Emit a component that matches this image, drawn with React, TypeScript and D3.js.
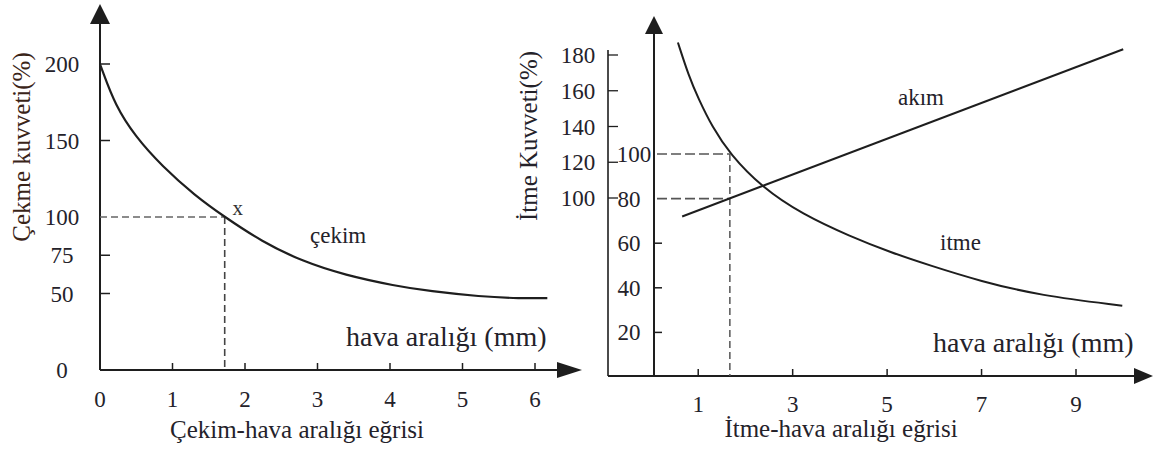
import React from "react";
import * as d3 from "d3";

// ---- Left chart: Çekim (pull) force vs air gap ----
const pullGap = [0, 0.03, 0.21, 0.48, 0.86, 1.31, 1.72, 2.23, 2.79, 3.38, 4.07, 4.55, 5.24, 5.8, 6.17];
const pullForce = [200, 196, 173, 153, 133, 114, 100, 84, 71, 62, 55, 51.5, 48, 46.8, 47];
const leftXTicks = [0, 1, 2, 3, 4, 5, 6];
const leftYTicks = [0, 50, 75, 100, 150, 200];
const pullMarkGap = 1.72;
const pullMarkForce = 100;

// ---- Right chart: İtme (push) force and akım (current) vs air gap ----
const pushGap = [0.57, 0.8, 1.0, 1.3, 1.67, 2.35, 3.2, 4.22, 5.06, 5.91, 6.97, 8.24, 9.98];
const pushForce = [150, 135, 125, 112, 100, 85, 73, 63, 56, 50, 43, 36.5, 32];
const currentGap = [0.66, 10.0];
const currentVal = [72, 147];
const rightXTicks = [1, 3, 5, 7, 9];
const rightInnerYTicks = [20, 40, 60, 80, 100];
const rightOuterYTicks = [100, 120, 140, 160, 180];
const pushMarkGap = 1.67;
const pushMarkForce = 100;
const currentMarkVal = 80;

const FONT = "'Liberation Serif', 'Times New Roman', serif";
const INK = "#1e1e1e";
const TXT = "#24222a";

export default function App() {
  // Left scales
  const xL = d3.scaleLinear().domain([0, 6]).range([100, 535]);
  const yL = d3.scaleLinear().domain([0, 200]).range([370, 64]);
  // Right scales
  const xR = d3.scaleLinear().domain([0, 9]).range([651, 1076]);
  const yR = d3.scaleLinear().domain([0, 100]).range([377, 154]);
  const yRO = d3.scaleLinear().domain([100, 180]).range([198, 55]);

  const pullPts = pullGap.map((g, i) => [g, pullForce[i]] as [number, number]);
  const pushPts = pushGap.map((g, i) => [g, pushForce[i]] as [number, number]);
  const curPts = currentGap.map((g, i) => [g, currentVal[i]] as [number, number]);

  const lineL = d3
    .line<[number, number]>()
    .x((d) => xL(d[0]))
    .y((d) => yL(d[1]))
    .curve(d3.curveBasis);
  const lineR = d3
    .line<[number, number]>()
    .x((d) => xR(d[0]))
    .y((d) => yR(d[1]))
    .curve(d3.curveBasis);

  const leftAxisX = xL(0);
  const leftAxisY = yL(0);
  const rightMainX = 654;
  const rightOuterX = 608;
  const rightAxisY = 376;

  return (
    <svg width={1154} height={450} style={{ display: "block", position: "absolute", left: 0, top: 0, background: "#fff" }}>
      <rect x={0} y={0} width={1154} height={450} fill="#fff" />
      {/* ================= LEFT CHART ================= */}
      <g>
        {/* y axis */}
        <line x1={leftAxisX} y1={22} x2={leftAxisX} y2={leftAxisY} stroke={INK} strokeWidth={2} />
        <path d={`M${leftAxisX},4 L${leftAxisX - 10},24 L${leftAxisX + 10},24 Z`} fill={INK} />
        {/* x axis */}
        <line x1={leftAxisX} y1={leftAxisY} x2={560} y2={leftAxisY} stroke={INK} strokeWidth={2} />
        <path d={`M582,${leftAxisY} L557,${leftAxisY - 8} L557,${leftAxisY + 8} Z`} fill={INK} />
        {/* y ticks */}
        {leftYTicks
          .filter((t) => t !== 0 && t !== pullMarkForce)
          .map((t) => (
            <line key={"lyt" + t} x1={leftAxisX} x2={leftAxisX + 10} y1={yL(t)} y2={yL(t)} stroke={INK} strokeWidth={1.5} />
          ))}
        {leftYTicks.map((t) => (
          <text key={"lyl" + t} x={62} y={yL(t) + 8} textAnchor="middle" fontFamily={FONT} fontSize={23} fill={TXT}>
            {t}
          </text>
        ))}
        {/* x ticks */}
        {leftXTicks
          .filter((t) => t !== 0)
          .map((t) => (
            <line key={"lxt" + t} x1={xL(t)} x2={xL(t)} y1={leftAxisY} y2={leftAxisY - 7} stroke={INK} strokeWidth={1.5} />
          ))}
        {leftXTicks.map((t) => (
          <text key={"lxl" + t} x={xL(t)} y={407} textAnchor="middle" fontFamily={FONT} fontSize={23} fill={TXT}>
            {t}
          </text>
        ))}
        {/* dashed guides */}
        <line x1={leftAxisX} y1={yL(pullMarkForce)} x2={xL(pullMarkGap)} y2={yL(pullMarkForce)} stroke="#666" strokeWidth={1.5} strokeDasharray="7,4" />
        <line x1={xL(pullMarkGap)} y1={yL(pullMarkForce)} x2={xL(pullMarkGap)} y2={leftAxisY} stroke="#444" strokeWidth={1.6} strokeDasharray="7,4" />
        {/* curve */}
        <path d={lineL(pullPts) || ""} fill="none" stroke={INK} strokeWidth={2.2} />
        <text x={xL(pullMarkGap) + 13} y={yL(pullMarkForce) - 2} textAnchor="middle" fontFamily={FONT} fontSize={21} fill="#333">
          x
        </text>
        <text x={310} y={243} fontFamily={FONT} fontSize={23} fill={TXT}>
          çekim
        </text>
        {/* titles */}
        <text x={346} y={346} fontFamily={FONT} fontSize={28} fill={TXT}>
          hava aralığı (mm)
        </text>
        <text x={297} y={438} textAnchor="middle" fontFamily={FONT} fontSize={25} fill={TXT}>
          Çekim-hava aralığı eğrisi
        </text>
        <text
          transform={`translate(30,147) rotate(-90)`}
          textAnchor="middle"
          fontFamily={FONT}
          fontSize={25}
          fill="#3a2418"
        >
          Çekme kuvveti(%)
        </text>
      </g>

      {/* ================= RIGHT CHART ================= */}
      <g>
        {/* outer vertical axis */}
        <line x1={rightOuterX} y1={50} x2={rightOuterX} y2={rightAxisY} stroke={INK} strokeWidth={1.6} />
        {rightOuterYTicks.map((t) => (
          <line key={"rot" + t} x1={rightOuterX} x2={rightOuterX + 10} y1={yRO(t)} y2={yRO(t)} stroke={INK} strokeWidth={1.3} />
        ))}
        {rightOuterYTicks.map((t) => (
          <text key={"rol" + t} x={578} y={yRO(t) + 8} textAnchor="middle" fontFamily={FONT} fontSize={23} fill={TXT}>
            {t}
          </text>
        ))}
        {/* main y axis */}
        <line x1={rightMainX} y1={32} x2={rightMainX} y2={rightAxisY} stroke={INK} strokeWidth={2} />
        <path d={`M${rightMainX},16 L${rightMainX - 9},34 L${rightMainX + 9},34 Z`} fill={INK} />
        {/* x axis */}
        <line x1={rightOuterX} y1={rightAxisY} x2={1136} y2={rightAxisY} stroke={INK} strokeWidth={2} />
        <path d={`M1153,${rightAxisY} L1134,${rightAxisY - 8} L1134,${rightAxisY + 8} Z`} fill={INK} />
        {/* inner y ticks */}
        {rightInnerYTicks
          .filter((t) => t !== pushMarkForce && t !== currentMarkVal)
          .map((t) => (
            <line key={"rit" + t} x1={rightMainX} x2={rightMainX + 8} y1={yR(t)} y2={yR(t)} stroke={INK} strokeWidth={1.5} />
          ))}
        {rightInnerYTicks.map((t) => (
          <text key={"ril" + t} x={t >= 100 ? 634 : 629} y={yR(t) + 8} textAnchor="middle" fontFamily={FONT} fontSize={23} fill={TXT}>
            {t}
          </text>
        ))}
        {/* x ticks */}
        {rightXTicks.map((t) => (
          <line key={"rxt" + t} x1={xR(t)} x2={xR(t)} y1={rightAxisY} y2={rightAxisY - 7} stroke={INK} strokeWidth={1.5} />
        ))}
        {rightXTicks.map((t) => (
          <text key={"rxl" + t} x={xR(t)} y={412} textAnchor="middle" fontFamily={FONT} fontSize={23} fill={TXT}>
            {t}
          </text>
        ))}
        {/* dashed guides */}
        <line x1={rightMainX + 3} y1={yR(pushMarkForce)} x2={xR(pushMarkGap)} y2={yR(pushMarkForce)} stroke="#555" strokeWidth={1.6} strokeDasharray="10,4" />
        <line x1={rightMainX + 3} y1={yR(currentMarkVal)} x2={xR(pushMarkGap)} y2={yR(currentMarkVal)} stroke="#555" strokeWidth={1.6} strokeDasharray="10,4" />
        <line x1={xR(pushMarkGap)} y1={yR(pushMarkForce)} x2={xR(pushMarkGap)} y2={rightAxisY} stroke="#555" strokeWidth={1.5} strokeDasharray="7,4" />
        {/* curves */}
        <path d={lineR(pushPts) || ""} fill="none" stroke={INK} strokeWidth={2} />
        <path d={lineR(curPts) || ""} fill="none" stroke={INK} strokeWidth={2} />
        <text x={898} y={105} fontFamily={FONT} fontSize={23} fill={TXT}>
          akım
        </text>
        <text x={940} y={250} fontFamily={FONT} fontSize={23} fill={TXT}>
          itme
        </text>
        {/* titles */}
        <text x={933} y={352} fontFamily={FONT} fontSize={28} fill={TXT}>
          hava aralığı (mm)
        </text>
        <text x={841} y={437} textAnchor="middle" fontFamily={FONT} fontSize={25} fill={TXT}>
          İtme-hava aralığı eğrisi
        </text>
        <text
          transform={`translate(537,136) rotate(-90)`}
          textAnchor="middle"
          fontFamily={FONT}
          fontSize={25}
          fill={TXT}
        >
          İtme Kuvveti(%)
        </text>
      </g>
    </svg>
  );
}
